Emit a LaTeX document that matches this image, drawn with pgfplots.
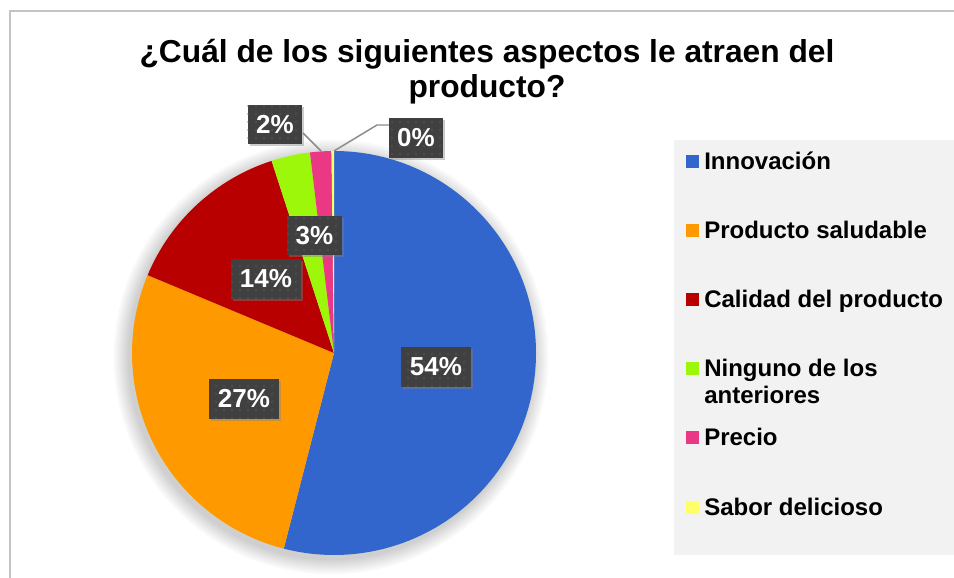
\documentclass[border=0pt]{standalone}
\usepackage{pgfplots}
\pgfplotsset{compat=1.18}
\usepackage{fontspec}
\setmainfont{Liberation Sans}
\usetikzlibrary{shadows,patterns.meta}

\definecolor{cInn}{HTML}{3366CC}
\definecolor{cSal}{HTML}{FF9900}
\definecolor{cCal}{HTML}{B80000}
\definecolor{cNin}{HTML}{9CF70A}
\definecolor{cPre}{HTML}{EB3884}
\definecolor{cSab}{HTML}{FFFF66}
\definecolor{lblbg}{HTML}{404040}
\definecolor{lbldot}{HTML}{5A5A5A}
\definecolor{legbg}{HTML}{F2F2F2}
\definecolor{framegray}{HTML}{C4C4C4}
\definecolor{leadergray}{HTML}{8C8C8C}

% data: share of answers (percent)
\def\vInn{54.0}
\def\vSal{27.3}
\def\vCal{13.7}
\def\vNin{3.1}
\def\vPre{1.7}
\def\vSab{0.2}
\pgfmathsetmacro\pieA{90}
\pgfmathsetmacro\pieB{\pieA-3.6*\vInn}
\pgfmathsetmacro\pieC{\pieB-3.6*\vSal}
\pgfmathsetmacro\pieD{\pieC-3.6*\vCal}
\pgfmathsetmacro\pieE{\pieD-3.6*\vNin}
\pgfmathsetmacro\pieF{\pieE-3.6*\vPre}
\pgfmathsetmacro\pieG{\pieF-3.6*\vSab}

\newcommand\titlefont{\fontsize{23.8}{28}\selectfont\bfseries}
\newcommand\legfont{\fontsize{18}{20}\selectfont\bfseries}

\tikzset{
  lbl/.style={fill=lblbg, text=white, font=\fontsize{19.5}{22}\selectfont\bfseries,
    inner xsep=6.5pt, inner ysep=0pt, minimum height=29.5pt,
    drop shadow={shadow xshift=1.5pt, shadow yshift=-1.5pt, opacity=0.4},
    postaction={pattern={Dots[distance=6pt, radius=0.6pt]}, pattern color=lbldot}},
  leader/.style={leadergray, line width=1.1pt},
  shd/.style={black, fill opacity=0.022}
}

\begin{document}
\begin{tikzpicture}
\begin{axis}[
  scale only axis, width=715.5pt, height=433.5pt,
  xmin=0, xmax=954, ymin=0, ymax=578, y dir=reverse,
  hide axis, clip=false,
]
\coordinate (TL) at (axis cs:0,0);
\coordinate (BR) at (axis cs:954,578);
\fill[white] (axis cs:0,0) rectangle (axis cs:954,578);
\draw[framegray, line width=1.5pt] (axis cs:9.5,590) -- (axis cs:9.5,10.5) -- (axis cs:970,10.5);
% title
\node[anchor=base, font=\titlefont] at (axis cs:487,62) {¿Cuál de los siguientes aspectos le atraen del};
\node[anchor=base, font=\titlefont] at (axis cs:487,97) {producto?};
% soft shadow of the pie
\fill[shd] (axis cs:331,357) circle[radius=152.5pt];
\fill[shd] (axis cs:331,357) circle[radius=154pt];
\fill[shd] (axis cs:331,357) circle[radius=155.5pt];
\fill[shd] (axis cs:331,357) circle[radius=157pt];
\fill[shd] (axis cs:331,357) circle[radius=158.5pt];
\fill[shd] (axis cs:331,357) circle[radius=160pt];
\fill[shd] (axis cs:331,357) circle[radius=161.5pt];
\fill[shd] (axis cs:331,357) circle[radius=163pt];
% slices
\fill[cInn] (axis cs:334,353) -- ++(\pieA:151.5pt) arc[start angle=\pieA, end angle=\pieB, radius=151.5pt] -- cycle;
\fill[cSal] (axis cs:334,353) -- ++(\pieB:151.5pt) arc[start angle=\pieB, end angle=\pieC, radius=151.5pt] -- cycle;
\fill[cCal] (axis cs:334,353) -- ++(\pieC:151.5pt) arc[start angle=\pieC, end angle=\pieD, radius=151.5pt] -- cycle;
\fill[cNin] (axis cs:334,353) -- ++(\pieD:151.5pt) arc[start angle=\pieD, end angle=\pieE, radius=151.5pt] -- cycle;
\fill[cPre] (axis cs:334,353) -- ++(\pieE:151.5pt) arc[start angle=\pieE, end angle=\pieF, radius=151.5pt] -- cycle;
\fill[cSab] (axis cs:334,353) -- ++(\pieF:151.5pt) arc[start angle=\pieF, end angle=\pieG, radius=151.5pt] -- cycle;
% leader lines
\draw[leader] (axis cs:303,133) -- (axis cs:321,151);
\draw[leader] (axis cs:389,125) -- (axis cs:377,125) -- (axis cs:334,151);
% data labels
\node[lbl] at (axis cs:436,367) {54\%};
\node[lbl] at (axis cs:244,399) {27\%};
\node[lbl] at (axis cs:266,279) {14\%};
\node[lbl] at (axis cs:314.5,235.5) {3\%};
\node[lbl] at (axis cs:275,124.5) {2\%};
\node[lbl] at (axis cs:416,138) {0\%};
% legend
\fill[legbg] (axis cs:674,140) rectangle (axis cs:954,555);
\fill[cInn] (axis cs:686,155) rectangle (axis cs:699,168);
\node[anchor=base west, inner sep=0pt, font=\legfont] at (axis cs:704,169) {Innovación};
\fill[cSal] (axis cs:686,224) rectangle (axis cs:699,237);
\node[anchor=base west, inner sep=0pt, font=\legfont] at (axis cs:704,238) {Producto saludable};
\fill[cCal] (axis cs:686,293) rectangle (axis cs:699,306);
\node[anchor=base west, inner sep=0pt, font=\legfont] at (axis cs:704,307) {Calidad del producto};
\fill[cNin] (axis cs:686,362) rectangle (axis cs:699,375);
\node[anchor=base west, inner sep=0pt, font=\legfont] at (axis cs:704,376) {Ninguno de los};
\node[anchor=base west, inner sep=0pt, font=\legfont] at (axis cs:704,403) {anteriores};
\fill[cPre] (axis cs:686,431) rectangle (axis cs:699,444);
\node[anchor=base west, inner sep=0pt, font=\legfont] at (axis cs:704,445) {Precio};
\fill[cSab] (axis cs:686,501) rectangle (axis cs:699,514);
\node[anchor=base west, inner sep=0pt, font=\legfont] at (axis cs:704,515) {Sabor delicioso};
\end{axis}
\pgfresetboundingbox
\path[use as bounding box] (TL) rectangle (BR);
\end{tikzpicture}
\end{document}
